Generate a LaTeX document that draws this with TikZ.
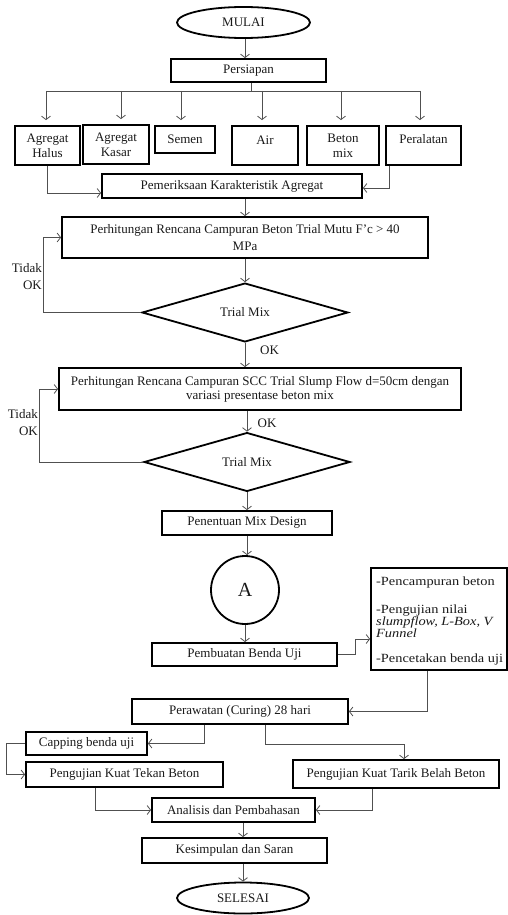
\documentclass[tikz,border=0pt]{standalone}
\usepackage{fontspec}
\setmainfont{Liberation Serif}
\newfontfamily\listfont{Liberation Serif}[FakeStretch=1.15]
\usetikzlibrary{shapes.geometric,arrows.meta,calc}
\definecolor{linecol}{RGB}{80,80,80}
\definecolor{txtcol}{RGB}{25,25,25}
\begin{document}
\begin{tikzpicture}[x=1pt,y=-1pt,
  font=\fontsize{13}{15}\selectfont, text=txtcol,
  box/.style={draw=black, line width=1.8pt, inner sep=0pt, align=center},
  term/.style={draw=black, line width=1.8pt, ellipse, inner sep=0pt},
  dia/.style={draw=black, line width=1.8pt, diamond, inner sep=0pt},
  conn/.style={draw=linecol, line width=0.8pt, -{Straight Barb[length=3.5pt,width=9pt]}},
  plain/.style={draw=linecol, line width=0.8pt},
  lbl/.style={inner sep=0pt},
  listline/.style={inner sep=0pt, anchor=west, font=\listfont\fontsize{12.5}{13}\selectfont}]
\useasboundingbox (0,0) rectangle (508,915);

% terminals and top
\node[term, minimum width=133pt, minimum height=31pt] (mulai) at (243.5,22.5) {MULAI};
\node[box, minimum width=155pt, minimum height=23pt] (pers) at (248.5,70.5) {Persiapan};

% materials
\node[box, minimum width=65pt, minimum height=39pt] (halus) at (47.5,145.5) {Agregat\\Halus};
\node[box, minimum width=66pt, minimum height=39pt] (kasar) at (116,144.5) {Agregat\\Kasar};
\node[box, minimum width=60pt, minimum height=27pt] (semen) at (185,139.5) {Semen};
\node[box, minimum width=66pt, minimum height=39pt] (air) at (265,145.5) {};
\node[lbl] (airt) at (265,140) {Air};
\node[box, minimum width=72pt, minimum height=39pt] (beton) at (343,145.5) {Beton\\mix};
\node[box, minimum width=75pt, minimum height=39pt] (peral) at (423.5,145.5) {};
\node[lbl] (peralt) at (423.5,139) {Peralatan};

\node[box, minimum width=260pt, minimum height=24pt] (pem) at (232,186) {Pemeriksaan Karakteristik Agregat};

\node[box, minimum width=366pt, minimum height=41pt] (p1) at (245,237.5) {Perhitungan Rencana Campuran Beton Trial Mutu F’c > 40\\[2pt]MPa};
\node[dia, minimum width=206pt, minimum height=49pt] (d1) at (245,312.5) {Trial Mix};
\node[box, minimum width=402pt, minimum height=42pt] (p2) at (260,389) {Perhitungan Rencana Campuran SCC Trial Slump Flow d=50cm dengan\\[-1pt]variasi presentase beton mix};
\node[dia, minimum width=206pt, minimum height=50pt] (d2) at (247,462) {Trial Mix};
\node[box, minimum width=170pt, minimum height=24pt] (pen) at (247,523) {Penentuan Mix Design};
\node[draw=black, line width=1.8pt, circle, minimum size=68pt, inner sep=0pt, font=\fontsize{20}{22}\selectfont] (A) at (245,590) {A};
\node[box, minimum width=185pt, minimum height=23pt] (pemb) at (244.5,654.5) {Pembuatan Benda Uji};
\node[box, minimum width=136pt, minimum height=102pt] (list) at (439,619) {};
\node[listline] (lt1) at (376,582) {-Pencampuran beton};
\node[listline] (lt2) at (376,611) {-Pengujian nilai};
\node[listline] (lt3) at (376,622) {\textit{slumpflow, L-Box, V}};
\node[listline] (lt4) at (376,633) {\textit{Funnel}};
\node[listline] (lt5) at (376,659) {-Pencetakan benda uji};
\node[box, minimum width=216pt, minimum height=25pt] (peraw) at (240,711.5) {Perawatan (Curing) 28 hari};
\node[box, minimum width=121pt, minimum height=23pt] (cap) at (86.5,743.5) {Capping benda uji};
\node[box, minimum width=197pt, minimum height=25pt] (tekan) at (124.5,774.5) {Pengujian Kuat Tekan Beton};
\node[box, minimum width=206pt, minimum height=28pt] (tarik) at (396,774) {Pengujian Kuat Tarik Belah Beton};
\node[box, minimum width=163pt, minimum height=24pt] (anal) at (233.5,810) {Analisis dan Pembahasan};
\node[box, minimum width=185pt, minimum height=25pt] (kes) at (234.5,850.5) {Kesimpulan dan Saran};
\node[term, minimum width=132pt, minimum height=31pt] (sel) at (243,898) {SELESAI};

% labels
\node[lbl, anchor=east] (t1) at (42,268) {Tidak};
\node[lbl, anchor=east] (o1) at (42,285) {OK};
\node[lbl] (ok1) at (269.5,350) {OK};
\node[lbl, anchor=east] (t2) at (38,414) {Tidak};
\node[lbl, anchor=east] (o2) at (38,431) {OK};
\node[lbl] (ok2) at (267,423) {OK};

% connectors top
\draw[conn] ([xshift=1.5pt]mulai.south) -- ([xshift=1.5pt]mulai.south |- pers.north);
\coordinate (br) at (251.5,91);
\coordinate (b1) at (46,91);
\coordinate (b2) at (121,91);
\coordinate (b3) at (181,91);
\coordinate (b4) at (262,91);
\coordinate (b5) at (341,91);
\coordinate (b6) at (420,91);
\draw[plain] (br |- pers.south) -- (br);
\draw[plain] (b1) -- (b6);
\draw[conn, shorten >=5pt] (b1) -- (b1 |- halus.north);
\draw[conn, shorten >=5pt] (b2) -- (b2 |- kasar.north);
\draw[conn, shorten >=5pt] (b3) -- (b3 |- semen.north);
\draw[conn, shorten >=5pt] (b4) -- (b4 |- air.north);
\draw[conn, shorten >=5pt] (b5) -- (b5 |- beton.north);
\draw[conn, shorten >=5pt] (b6) -- (b6 |- peral.north);

\draw[conn] (halus.south) |- ([yshift=-7pt]pem.west);
\draw[conn] ([xshift=-34.5pt]peral.south) |- ([yshift=-2pt]pem.east);
\draw[conn] (p1.north |- pem.south) -- (p1.north);

% loop 1
\draw[conn] (p1.south) -- (d1.north);
\coordinate (l1) at (43,312.5);
\draw[conn] (d1.west) -- (l1) |- (p1.west);
\draw[conn] (d1.south) -- (d1.south |- p2.north);

% loop 2
\coordinate (l2) at (39,462);
\draw[conn] (d2.west) -- (l2) |- (p2.west);
\draw[conn] (d2.north |- p2.south) -- (d2.north);
\draw[conn] (d2.south) -- (pen.north);
\draw[conn] (pen.south) -- (pen.south |- A.north);
\draw[conn] (A.south) -- (A.south |- pemb.north);

% list box
\draw[conn] (pemb.east) -- ++(17,0) |- ([yshift=-20pt]list.west);
\draw[conn] ([xshift=-12pt]list.south) |- (peraw.east);

% lower part
\draw[conn] ([xshift=-36pt]peraw.south) |- (cap.east);
\draw[conn] ([xshift=25pt]peraw.south) -- ++(0,19) -| ([xshift=8pt]tarik.north);
\draw[conn] (cap.west) -- ++(-19,0) |- (tekan.west);
\draw[conn] ([xshift=-29.5pt]tekan.south) |- (anal.west);
\draw[conn] ([xshift=-24pt]tarik.south) |- (anal.east);
\draw[conn] ([xshift=9.5pt]anal.south) -- ([xshift=9.5pt]anal.south |- kes.north);
\draw[conn] (sel.north |- kes.south) -- (sel.north);
\end{tikzpicture}
\end{document}
